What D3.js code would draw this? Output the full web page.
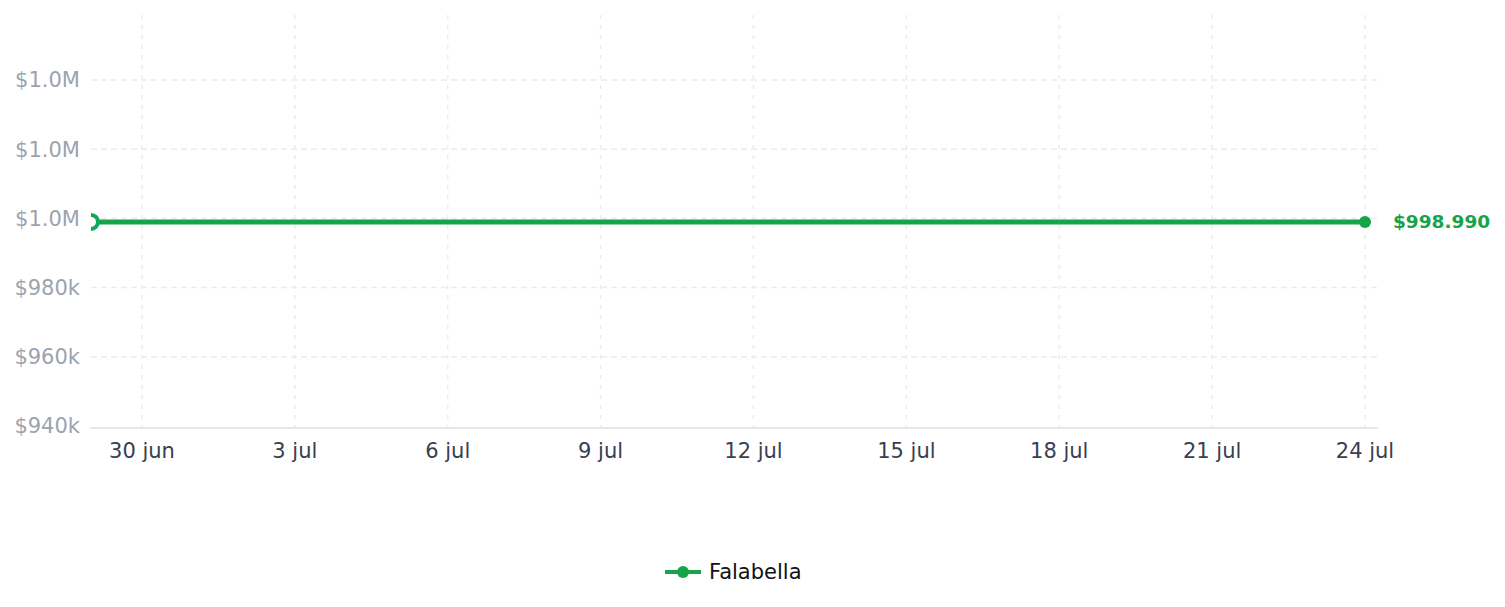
<!DOCTYPE html>
<html>
<head>
<meta charset="utf-8">
<script src="https://cdn.jsdelivr.net/npm/d3@7"></script>
<style>
  body { margin: 0; background: #fff; font-family: "DejaVu Sans", sans-serif; }
</style>
</head>
<body>
<div id="chart"></div>
<script>
// Data
const seriesName = "Falabella";
const dates = [
  "2025-06-29", "2025-06-30", "2025-07-01", "2025-07-02", "2025-07-03", "2025-07-04",
  "2025-07-05", "2025-07-06", "2025-07-07", "2025-07-08", "2025-07-09", "2025-07-10",
  "2025-07-11", "2025-07-12", "2025-07-13", "2025-07-14", "2025-07-15", "2025-07-16",
  "2025-07-17", "2025-07-18", "2025-07-19", "2025-07-20", "2025-07-21", "2025-07-22",
  "2025-07-23", "2025-07-24"
];
const prices = [
  998990, 998990, 998990, 998990, 998990, 998990,
  998990, 998990, 998990, 998990, 998990, 998990,
  998990, 998990, 998990, 998990, 998990, 998990,
  998990, 998990, 998990, 998990, 998990, 998990,
  998990, 998990
];
const yTicks = [940000, 960000, 980000, 1000000, 1020000, 1040000];
const xTickDates = ["2025-06-30", "2025-07-03", "2025-07-06", "2025-07-09", "2025-07-12",
  "2025-07-15", "2025-07-18", "2025-07-21", "2025-07-24"];
const monthNames = ["ene", "feb", "mar", "abr", "may", "jun", "jul", "ago", "sep", "oct", "nov", "dic"];

const green = "#16a34a";
const W = 1505, H = 607;

// Plot area
const plotLeft = 91, plotRight = 1378, plotTop = 15, plotBottom = 428;

const parse = d3.utcParse("%Y-%m-%d");
const data = dates.map((d, i) => ({ date: parse(d), value: prices[i] }));

const x = d3.scaleUtc()
  .domain([parse(dates[0]), parse(dates[dates.length - 1])])
  .range([plotLeft, 1365]);
const y = d3.scaleLinear()
  .domain([940000, 1040000])
  .range([426, 80]);

const esLocale = d3.formatLocale({ decimal: ",", thousands: ".", grouping: [3], currency: ["$", ""] });
const fmtEnd = esLocale.format("$,.0f");
const fmtY = v => v >= 1e6 ? "$" + (v / 1e6).toFixed(1) + "M" : "$" + Math.round(v / 1000) + "k";
const fmtX = d => d.getUTCDate() + " " + monthNames[d.getUTCMonth()];

const svg = d3.select("#chart").append("svg")
  .attr("width", W)
  .attr("height", H);

svg.append("defs").append("clipPath")
  .attr("id", "plot-clip")
  .append("rect")
  .attr("x", plotLeft).attr("y", plotTop)
  .attr("width", plotRight - plotLeft).attr("height", plotBottom - plotTop);

// Grid
const xTicks = xTickDates.map(parse);
svg.append("g").selectAll("line")
  .data(xTicks)
  .join("line")
  .attr("x1", d => x(d)).attr("x2", d => x(d))
  .attr("y1", plotTop).attr("y2", plotBottom)
  .attr("stroke", "#ececec")
  .attr("stroke-width", 1.5)
  .attr("stroke-dasharray", "4 6");

svg.append("g").selectAll("line")
  .data(yTicks.slice(1))
  .join("line")
  .attr("x1", plotLeft).attr("x2", plotRight)
  .attr("y1", d => y(d)).attr("y2", d => y(d))
  .attr("stroke", "#ececec")
  .attr("stroke-width", 1.5)
  .attr("stroke-dasharray", "6 4");

// Bottom axis line
svg.append("line")
  .attr("x1", plotLeft - 1).attr("x2", plotRight)
  .attr("y1", plotBottom).attr("y2", plotBottom)
  .attr("stroke", "#e5e7eb")
  .attr("stroke-width", 2);

// Y labels
svg.append("g").selectAll("text")
  .data(yTicks)
  .join("text")
  .attr("x", 80)
  .attr("y", d => y(d))
  .attr("dy", "0.35em")
  .attr("text-anchor", "end")
  .attr("fill", "#9ca3af")
  .style("font-size", "21px")
  .text(fmtY);

// X labels
svg.append("g").selectAll("text")
  .data(xTicks)
  .join("text")
  .attr("x", d => x(d))
  .attr("y", 458)
  .attr("text-anchor", "middle")
  .attr("fill", "#374151")
  .style("font-size", "21px")
  .text(fmtX);

// Line
const plot = svg.append("g").attr("clip-path", "url(#plot-clip)");
const line = d3.line().x(d => x(d.date)).y(d => y(d.value));
plot.append("path")
  .datum(data)
  .attr("d", line)
  .attr("fill", "none")
  .attr("stroke", green)
  .attr("stroke-width", 5);

const first = data[0], last = data[data.length - 1];
plot.append("circle")
  .attr("cx", x(first.date)).attr("cy", y(first.value))
  .attr("r", 7)
  .attr("fill", "#fff")
  .attr("stroke", "#12a85a")
  .attr("stroke-width", 4);
plot.append("circle")
  .attr("cx", x(last.date)).attr("cy", y(last.value))
  .attr("r", 6)
  .attr("fill", green);

// End label
svg.append("text")
  .attr("x", 1393)
  .attr("y", y(last.value))
  .attr("dy", "0.35em")
  .attr("fill", green)
  .style("font-size", "18.5px")
  .style("font-weight", "bold")
  .text(fmtEnd(last.value));

// Legend
const lg = svg.append("g").attr("transform", "translate(665, 572)");
lg.append("line")
  .attr("x1", 0).attr("x2", 36)
  .attr("stroke", green).attr("stroke-width", 4);
lg.append("circle")
  .attr("cx", 18).attr("r", 6)
  .attr("fill", green);
lg.append("text")
  .attr("x", 44)
  .attr("dy", "0.35em")
  .attr("fill", "#111")
  .style("font-size", "21px")
  .text(seriesName);
</script>
</body>
</html>
